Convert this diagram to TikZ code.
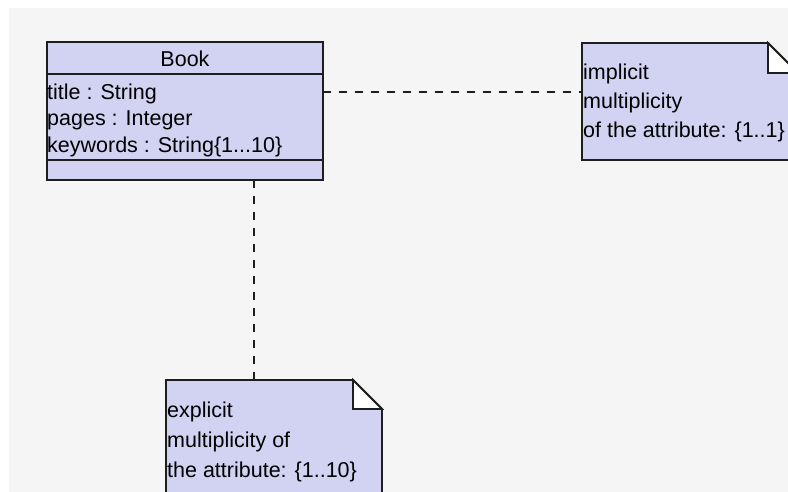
\documentclass[tikz,border=0pt]{standalone}
\usepackage{fontspec}
\setmainfont{Liberation Sans}
\definecolor{bg}{RGB}{245,245,245}
\definecolor{umlfill}{RGB}{210,210,242}
\definecolor{edge}{RGB}{30,30,30}
\tikzset{
  umlline/.style={draw=edge, line width=1.8pt},
  conn/.style={draw=edge, line width=1.8pt, dash pattern=on 8pt off 8pt},
  txt/.style={inner sep=0pt, anchor=base west, font=\fontsize{21.5}{21.5}\selectfont},
}
\begin{document}
\begin{tikzpicture}[x=1pt,y=-1pt]
\useasboundingbox (0,0) rectangle (788,492);
\fill[white] (0,0) rectangle (788,492);
\fill[bg] (9,8) rectangle (788,492);
\begin{scope}
\clip (9,8) rectangle (788,492);
% Book class
\path[fill=umlfill, umlline] (47,42) rectangle (323,180);
\draw[umlline] (47,74) -- (323,74);
\draw[umlline] (47,160) -- (323,160);
\node[txt, anchor=base] (book) at (185,67) {Book};
\node[txt] (a1) at (47,100) {title : String};
\node[txt] (a2) at (47,126) {pages : Integer};
\node[txt] (a3) at (47,153) {keywords : String\{1...10\}};
\coordinate (bookR) at (323,92);
\coordinate (bookB) at (254,180);
% implicit note
\path[fill=umlfill, umlline] (582,43) -- (768,43) -- (798,73) -- (798,160) -- (582,160) -- cycle;
\path[fill=white, umlline] (768,43) -- (768,73) -- (798,73) -- cycle;
\node[txt] (n1a) at (583,80) {implicit};
\node[txt] (n1b) at (583,109) {multiplicity};
\node[txt] (n1c) at (583,138) {of the attribute: \{1..1\}};
\coordinate (noteL) at (582,92);
% explicit note
\path[fill=umlfill, umlline] (166,380) -- (353,380) -- (382,409) -- (382,500) -- (166,500) -- cycle;
\path[fill=white, umlline] (353,380) -- (353,409) -- (382,409) -- cycle;
\node[txt] (n2a) at (167,417) {explicit};
\node[txt] (n2b) at (167,447) {multiplicity of};
\node[txt] (n2c) at (167,477) {the attribute: \{1..10\}};
\coordinate (noteT) at (254,380);
% connectors
\draw[conn] (bookR) -- (noteL);
\draw[conn] (bookB) -- (noteT);
\end{scope}
\end{tikzpicture}
\end{document}
